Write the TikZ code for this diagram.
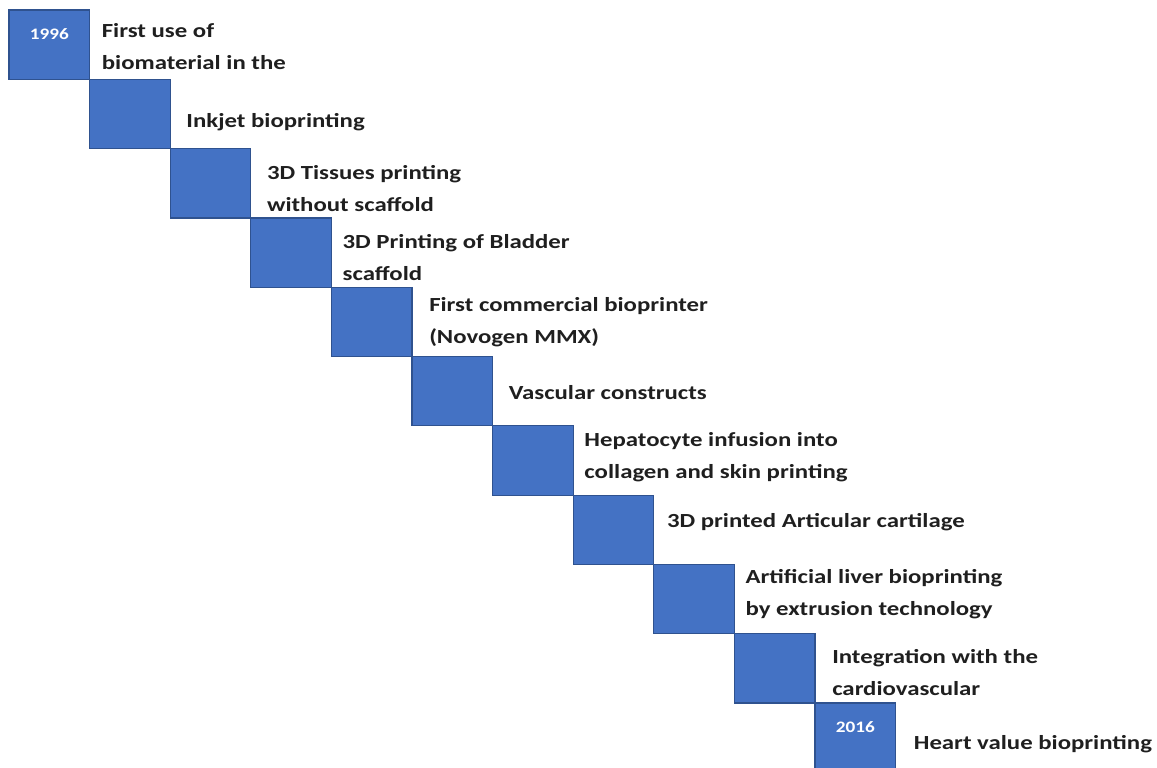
\documentclass[tikz,border=0pt]{standalone}
\usepackage{fontspec}
\setmainfont{Carlito}
\usetikzlibrary{positioning}
\definecolor{stepfill}{HTML}{4472C4}
\definecolor{stepline}{HTML}{2F528F}
\definecolor{inktext}{HTML}{1F1F1F}

\begin{document}
\begin{tikzpicture}[
      x=1pt, y=-1pt,
      stepsq/.style={rectangle, draw=stepline, line width=1.2pt, fill=stepfill,
                     minimum width=80.6pt, minimum height=69.3pt,
                     inner sep=0pt, outer sep=0pt},
      event/.style={anchor=west, align=left, inner sep=0pt, text=inktext,
                    xscale=1.24, transform shape,
                    font=\fontsize{20}{32}\selectfont\bfseries},
      yeartext/.style={text=white, inner sep=0pt,
                       xscale=1.2, transform shape,
                       font=\fontsize{16}{18}\selectfont\bfseries},
    ]
    \clip (0,0) rectangle (1157,768);
    \useasboundingbox (0,0) rectangle (1157,768);

    % staircase of years
    \node[stepsq, anchor=north west] (s1) at (9,10) {};
    \node[stepsq, below right=0pt and 0pt of s1] (s2) {};
    \node[stepsq, below right=0pt and 0pt of s2] (s3) {};
    \node[stepsq, below right=0pt and 0pt of s3] (s4) {};
    \node[stepsq, below right=0pt and 0pt of s4] (s5) {};
    \node[stepsq, below right=0pt and 0pt of s5] (s6) {};
    \node[stepsq, below right=0pt and 0pt of s6] (s7) {};
    \node[stepsq, below right=0pt and 0pt of s7] (s8) {};
    \node[stepsq, below right=0pt and 0pt of s8] (s9) {};
    \node[stepsq, below right=0pt and 0pt of s9] (s10) {};
    \node[stepsq, below right=0pt and 0pt of s10] (s11) {};

    \node[yeartext] (y1) at ([yshift=-24pt]s1.north) {1996};
    \node[yeartext] (y11) at ([yshift=-24pt]s11.north) {2016};

    % events
    \node[event, right=12pt of s1, yshift=-2pt] (e1) {First use of\\biomaterial in the};
    \node[event, right=16pt of s2, yshift=-8pt] (e2) {Inkjet bioprinting};
    \node[event, right=16pt of s3, yshift=-5pt] (e3) {3D Tissues printing\\without scaffold};
    \node[event, right=11pt of s4, yshift=-5pt] (e4) {3D Printing of Bladder\\scaffold};
    \node[event, right=17pt of s5, yshift=0pt] (e5) {First commercial bioprinter\\(Novogen MMX)};
    \node[event, right=16pt of s6, yshift=-1pt] (e6) {Vascular constructs};
    \node[event, right=11pt of s7, yshift=3pt] (e7) {Hepatocyte infusion into\\collagen and skin printing};
    \node[event, right=13pt of s8, yshift=8pt] (e8) {3D printed Articular cartilage};
    \node[event, right=11pt of s9, yshift=5pt] (e9) {Artificial liver bioprinting\\by extrusion technology};
    \node[event, right=17pt of s10, yshift=-4pt] (e10) {Integration with the\\cardiovascular};
    \node[event, right=18pt of s11, yshift=-7pt] (e11) {Heart value bioprinting};
  \end{tikzpicture}
\end{document}
